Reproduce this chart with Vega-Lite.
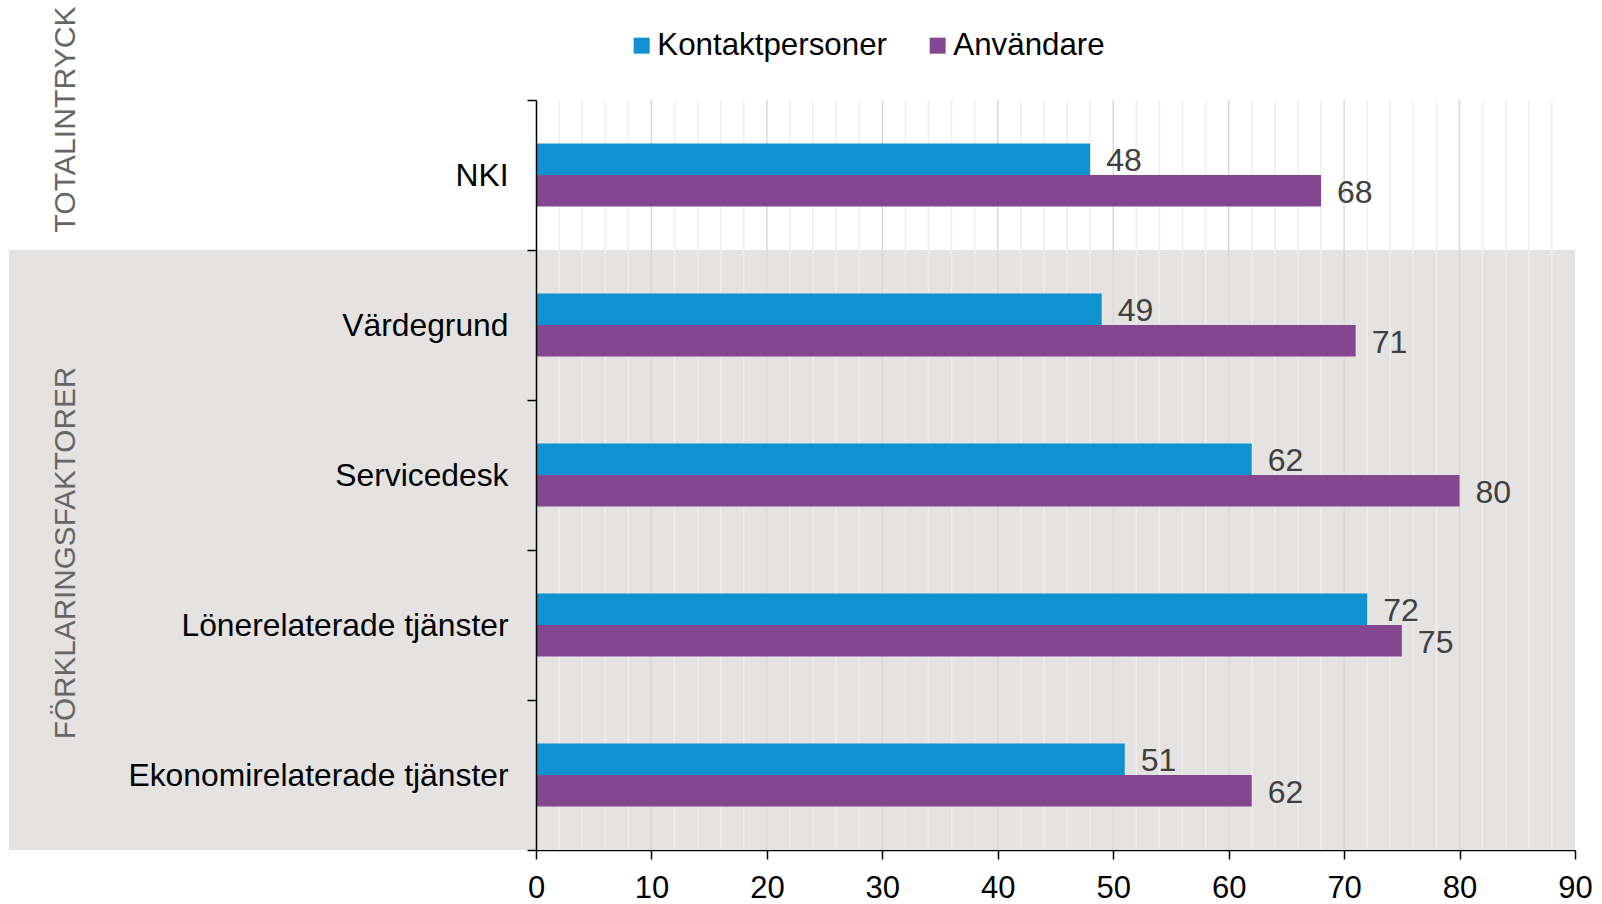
{
  "$schema": "https://vega.github.io/schema/vega-lite/v6.json",
  "width": 1039,
  "height": 750,
  "autosize": {"type": "none"},
  "padding": {"left": 536, "top": 100, "right": 27, "bottom": 54},
  "background": "white",
  "config": {
    "font": "Liberation Sans",
    "view": {"stroke": null},
    "axis": {"grid": false}
  },
  "datasets": {
    "main": [
      {"cat": "NKI", "group": "TOTALINTRYCK", "series": "Kontaktpersoner", "value": 48},
      {"cat": "NKI", "group": "TOTALINTRYCK", "series": "Användare", "value": 68},
      {"cat": "Värdegrund", "group": "FÖRKLARINGSFAKTORER", "series": "Kontaktpersoner", "value": 49},
      {"cat": "Värdegrund", "group": "FÖRKLARINGSFAKTORER", "series": "Användare", "value": 71},
      {"cat": "Servicedesk", "group": "FÖRKLARINGSFAKTORER", "series": "Kontaktpersoner", "value": 62},
      {"cat": "Servicedesk", "group": "FÖRKLARINGSFAKTORER", "series": "Användare", "value": 80},
      {"cat": "Lönerelaterade tjänster", "group": "FÖRKLARINGSFAKTORER", "series": "Kontaktpersoner", "value": 72},
      {"cat": "Lönerelaterade tjänster", "group": "FÖRKLARINGSFAKTORER", "series": "Användare", "value": 75},
      {"cat": "Ekonomirelaterade tjänster", "group": "FÖRKLARINGSFAKTORER", "series": "Kontaktpersoner", "value": 51},
      {"cat": "Ekonomirelaterade tjänster", "group": "FÖRKLARINGSFAKTORER", "series": "Användare", "value": 62}
    ],
    "grid": [
      {"v": 2}, {"v": 4}, {"v": 6}, {"v": 8}, {"v": 10}, {"v": 12}, {"v": 14}, {"v": 16}, {"v": 18}, {"v": 20},
      {"v": 22}, {"v": 24}, {"v": 26}, {"v": 28}, {"v": 30}, {"v": 32}, {"v": 34}, {"v": 36}, {"v": 38}, {"v": 40},
      {"v": 42}, {"v": 44}, {"v": 46}, {"v": 48}, {"v": 50}, {"v": 52}, {"v": 54}, {"v": 56}, {"v": 58}, {"v": 60},
      {"v": 62}, {"v": 64}, {"v": 66}, {"v": 68}, {"v": 70}, {"v": 72}, {"v": 74}, {"v": 76}, {"v": 78}, {"v": 80},
      {"v": 82}, {"v": 84}, {"v": 86}, {"v": 88}
    ],
    "groups": [
      {"label": "TOTALINTRYCK", "cat": "NKI"},
      {"label": "FÖRKLARINGSFAKTORER", "cat": "Lönerelaterade tjänster"}
    ]
  },
  "layer": [
    {
      "data": {"name": "main"},
      "transform": [{"filter": "datum.group === 'FÖRKLARINGSFAKTORER'"}],
      "mark": {"type": "rect", "fill": "#e4e3e2"},
      "encoding": {
        "y": {"field": "cat", "type": "nominal", "title": null},
        "x": {"datum": -45.65, "type": "quantitative"},
        "x2": {"datum": 90}
      }
    },
    {
      "data": {"name": "grid"},
      "mark": {"type": "rule", "strokeWidth": 1.5},
      "encoding": {
        "x": {"field": "v", "type": "quantitative", "title": null},
        "color": {
          "condition": {"test": "datum.v % 10 === 0", "value": "#d9d9d9"},
          "value": "#eeeeee"
        }
      }
    },
    {
      "data": {"name": "main"},
      "mark": {"type": "bar"},
      "encoding": {
        "y": {
          "field": "cat",
          "type": "nominal",
          "title": null,
          "sort": ["NKI", "Värdegrund", "Servicedesk", "Lönerelaterade tjänster", "Ekonomirelaterade tjänster"],
          "scale": {
            "domain": ["NKI", "Värdegrund", "Servicedesk", "Lönerelaterade tjänster", "Ekonomirelaterade tjänster"],
            "paddingInner": 0,
            "paddingOuter": 0
          },
          "axis": {
            "tickBand": "extent",
            "tickSize": 9,
            "tickWidth": 1.5,
            "tickColor": "#000000",
            "domainColor": "#000000",
            "domainWidth": 1.5,
            "labelFontSize": 31.8,
            "labelColor": "#000000",
            "labelPadding": 19,
            "labelLimit": 600
          }
        },
        "yOffset": {
          "field": "series",
          "type": "nominal",
          "sort": ["Kontaktpersoner", "Användare"],
          "scale": {"paddingInner": 0, "paddingOuter": 0, "range": [43.5, 106.5]}
        },
        "x": {
          "field": "value",
          "type": "quantitative",
          "title": null,
          "scale": {"domain": [0, 90], "nice": false, "zero": true},
          "axis": {
            "values": [0, 10, 20, 30, 40, 50, 60, 70, 80, 90],
            "tickSize": 9,
            "tickWidth": 1.5,
            "tickColor": "#000000",
            "domainColor": "#000000",
            "domainWidth": 1.5,
            "labelFontSize": 31,
            "labelColor": "#000000",
            "labelPadding": 14,
            "labelFlush": false,
            "labelOverlap": false
          }
        },
        "color": {
          "field": "series",
          "type": "nominal",
          "sort": ["Kontaktpersoner", "Användare"],
          "scale": {"domain": ["Kontaktpersoner", "Användare"], "range": ["#1192d0", "#844691"]},
          "legend": {
            "title": null,
            "orient": "none",
            "direction": "horizontal",
            "legendX": 90,
            "legendY": -70,
            "padding": 0,
            "symbolType": "square",
            "symbolSize": 256,
            "symbolStrokeWidth": 0,
            "labelFontSize": 31.3,
            "labelColor": "#000000",
            "labelOffset": 0,
            "columnPadding": 35,
            "labelLimit": 500
          }
        }
      }
    },
    {
      "data": {"name": "main"},
      "mark": {"type": "text", "align": "left", "baseline": "middle", "dx": 16, "dy": 2, "fontSize": 32, "color": "#404040"},
      "encoding": {
        "y": {"field": "cat", "type": "nominal", "title": null},
        "yOffset": {"field": "series", "type": "nominal", "sort": ["Kontaktpersoner", "Användare"]},
        "x": {"field": "value", "type": "quantitative", "title": null},
        "text": {"field": "value", "type": "quantitative"}
      }
    },
    {
      "data": {"name": "groups"},
      "transform": [{"filter": "datum.label === 'TOTALINTRYCK'"}],
      "mark": {"type": "text", "angle": 270, "align": "center", "baseline": "middle", "fontSize": 30.2, "color": "#666666"},
      "encoding": {
        "y": {"field": "cat", "type": "nominal", "bandPosition": 0.13, "title": null},
        "x": {"datum": -40.67, "type": "quantitative"},
        "text": {"field": "label"}
      }
    },
    {
      "data": {"name": "groups"},
      "transform": [{"filter": "datum.label === 'FÖRKLARINGSFAKTORER'"}],
      "mark": {"type": "text", "angle": 270, "align": "center", "baseline": "middle", "fontSize": 29.7, "color": "#666666"},
      "encoding": {
        "y": {"field": "cat", "type": "nominal", "bandPosition": 0.02, "title": null},
        "x": {"datum": -40.67, "type": "quantitative"},
        "text": {"field": "label"}
      }
    }
  ]
}
